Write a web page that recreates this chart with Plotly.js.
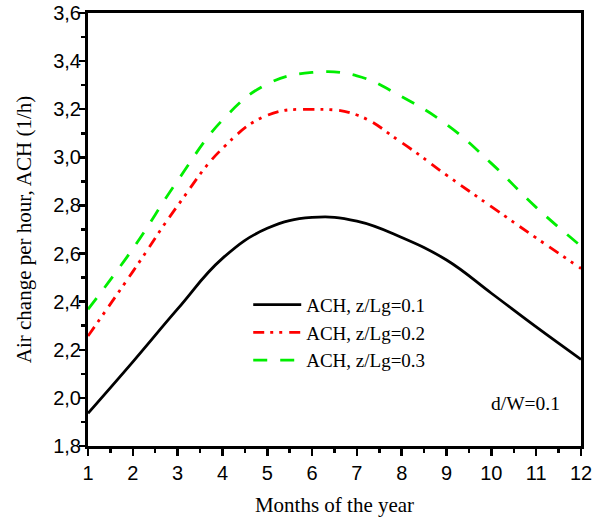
<!DOCTYPE html>
<html>
<head>
<meta charset="utf-8">
<script src="https://cdn.plot.ly/plotly-3.0.1.min.js"></script>
<style>html,body{margin:0;padding:0;background:#fff;}#chart{width:608px;height:522px;}</style>
</head>
<body>
<div id="chart"></div>
<script>
const months = [1,2,3,4,5,6,7,8,9,10,11,12];
const ach01 = [1.936,2.15,2.37,2.58,2.705,2.75,2.735,2.667,2.573,2.435,2.295,2.16];
const ach02 = [2.257,2.525,2.799,3.037,3.175,3.199,3.176,3.061,2.926,2.795,2.665,2.538];
const ach03 = [2.368,2.62,2.903,3.155,3.305,3.353,3.339,3.252,3.137,2.975,2.792,2.631];
const names = ['ACH, z/Lg=0.1','ACH, z/Lg=0.2','ACH, z/Lg=0.3'];

const serif = 'Liberation Serif, Times New Roman, serif';
const sans = 'Liberation Sans, Arial, sans-serif';

const traces = [
  {x: months, y: ach01, name: names[0], mode: 'lines', line: {color: '#000000', width: 2.8, shape: 'spline', smoothing: 1.2}},
  {x: months, y: ach02, name: names[1], mode: 'lines', line: {color: '#ff0000', width: 2.8, shape: 'spline', smoothing: 1.2, dash: '11px,6px,3px,6px,3px,7px'}},
  {x: months, y: ach03, name: names[2], mode: 'lines', line: {color: '#00ee00', width: 2.8, shape: 'spline', smoothing: 1.2, dash: '14px,13px'}}
];

const layout = {
  width: 608, height: 522,
  margin: {l: 88, r: 27, t: 13, b: 76},
  paper_bgcolor: '#fff', plot_bgcolor: '#fff',
  separators: ',.',
  showlegend: true,
  legend: {x: 0.325, y: 0.37, xanchor: 'left', yanchor: 'top', bgcolor: 'rgba(0,0,0,0)',
           font: {family: serif, size: 19, color: '#000'}, tracegroupgap: 0, itemwidth: 48},
  xaxis: {
    range: [1, 12], tickvals: months, ticktext: months.map(String),
    showgrid: false, zeroline: false,
    showline: true, linecolor: '#000', linewidth: 3, mirror: true,
    ticks: 'outside', ticklen: 7, tickwidth: 2.5, tickcolor: '#000',
    minor: {dtick: 0.5, tick0: 1, ticks: 'outside', ticklen: 4, tickwidth: 2.5, tickcolor: '#000', showgrid: false},
    tickfont: {family: sans, size: 20, color: '#000'},
    title: {text: 'Months of the year', font: {family: serif, size: 21, color: '#000'}, standoff: 15}
  },
  yaxis: {
    range: [1.8, 3.6], dtick: 0.2, tick0: 1.8, tickformat: '.1f',
    showgrid: false, zeroline: false,
    showline: true, linecolor: '#000', linewidth: 3, mirror: true,
    ticks: 'outside', ticklen: 6, tickwidth: 2.5, tickcolor: '#000',
    ticklabelstandoff: -6,
    minor: {dtick: 0.1, tick0: 1.8, ticks: 'outside', ticklen: 4, tickwidth: 2.5, tickcolor: '#000', showgrid: false},
    tickfont: {family: sans, size: 20, color: '#000'},
    title: {text: 'Air change per hour, ACH (1/h)', font: {family: serif, size: 21, color: '#000'}, standoff: 16}
  },
  annotations: [
    {xref: 'paper', yref: 'paper', x: 0.962, y: 0.097, xanchor: 'right', yanchor: 'middle', showarrow: false,
     text: 'd/W=0.1', font: {family: serif, size: 19.5, color: '#000'}}
  ]
};

Plotly.newPlot('chart', traces, layout, {displayModeBar: false, staticPlot: true});
</script>
</body>
</html>
